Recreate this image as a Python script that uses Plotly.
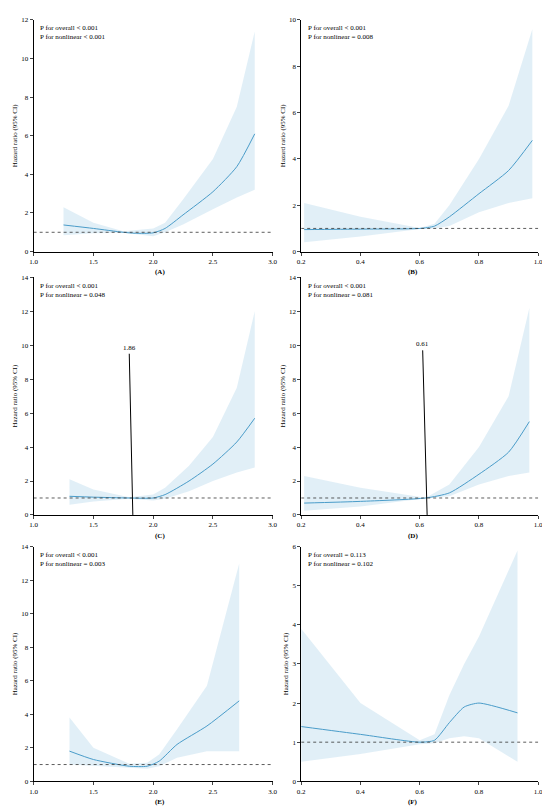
import plotly.graph_objects as go

F = "Liberation Serif"
panels = {
 "A": dict(x=[1.25,1.5,1.75,1.85,2.0,2.1,2.25,2.5,2.7,2.85],
           hr=[1.38,1.2,1.0,0.95,0.97,1.2,1.9,3.1,4.4,6.1],
           lo=[0.85,0.95,0.98,0.9,0.8,1.0,1.4,2.2,2.8,3.2],
           hi=[2.3,1.5,1.05,1.1,1.2,1.5,2.7,4.8,7.5,11.4],
           xr=[1.0,3.0], xt=[1.0,1.5,2.0,2.5,3.0], yr=[0,12], dt=2,
           p=["P for overall < 0.001","P for nonlinear < 0.001"]),
 "B": dict(x=[0.21,0.4,0.6,0.65,0.7,0.8,0.9,0.98],
           hr=[0.95,0.97,1.0,1.1,1.5,2.5,3.5,4.8],
           lo=[0.4,0.65,0.98,1.0,1.1,1.7,2.1,2.3],
           hi=[2.1,1.5,1.02,1.2,2.0,4.0,6.3,9.6],
           xr=[0.2,1.0], xt=[0.2,0.4,0.6,0.8,1.0], yr=[0,10], dt=2,
           p=["P for overall < 0.001","P for nonlinear = 0.008"]),
 "C": dict(x=[1.3,1.5,1.8,2.0,2.1,2.3,2.5,2.7,2.85],
           hr=[1.1,1.05,1.0,1.0,1.2,2.0,3.0,4.3,5.7],
           lo=[0.6,0.8,0.95,0.85,0.95,1.4,2.0,2.5,2.8],
           hi=[2.1,1.5,1.05,1.2,1.6,2.9,4.6,7.5,12.0],
           xr=[1.0,3.0], xt=[1.0,1.5,2.0,2.5,3.0], yr=[0,14], dt=2,
           p=["P for overall < 0.001","P for nonlinear = 0.048"],
           cut=("1.86",1.80,1.83,9.5)),
 "D": dict(x=[0.21,0.4,0.62,0.7,0.8,0.9,0.97],
           hr=[0.7,0.8,1.0,1.3,2.4,3.7,5.5],
           lo=[0.25,0.5,0.98,1.1,1.8,2.3,2.5],
           hi=[2.3,1.6,1.02,1.8,4.0,7.0,12.2],
           xr=[0.2,1.0], xt=[0.2,0.4,0.6,0.8,1.0], yr=[0,14], dt=2,
           p=["P for overall < 0.001","P for nonlinear = 0.081"],
           cut=("0.61",0.61,0.625,9.7)),
 "E": dict(x=[1.3,1.5,1.8,1.95,2.05,2.2,2.45,2.72],
           hr=[1.8,1.3,0.9,0.9,1.2,2.2,3.3,4.8],
           lo=[1.0,0.9,0.8,0.75,0.9,1.4,1.8,1.8],
           hi=[3.8,2.0,1.05,1.1,1.6,3.1,5.7,13.0],
           xr=[1.0,3.0], xt=[1.0,1.5,2.0,2.5,3.0], yr=[0,14], dt=2,
           p=["P for overall < 0.001","P for nonlinear = 0.003"]),
 "F": dict(x=[0.2,0.4,0.6,0.65,0.7,0.75,0.8,0.93],
           hr=[1.4,1.2,1.0,1.05,1.5,1.9,2.0,1.75],
           lo=[0.5,0.7,0.95,0.97,1.1,1.15,1.1,0.5],
           hi=[3.9,2.0,1.05,1.2,2.2,3.0,3.7,5.9],
           xr=[0.2,1.0], xt=[0.2,0.4,0.6,0.8,1.0], yr=[0,6], dt=1,
           p=["P for overall = 0.113","P for nonlinear = 0.102"]),
}
W, H = 550, 807
xdom = [[22/W, 265/W], [294/W, 535/W]]
ydom = [[1-242/H, 1-8/H], [1-508/H, 1-268/H], [1-777/H, 1-540/H]]

fig = go.Figure()
layout = dict(width=W, height=H, margin=dict(l=0, r=0, t=0, b=0),
              plot_bgcolor="white", paper_bgcolor="white", showlegend=False,
              font=dict(family=F, size=7, color="black"))
ann, shapes = [], []
for i, (k, d) in enumerate(panels.items()):
    r, c = divmod(i, 2)
    n = i + 1
    xa, ya = ("x" if n == 1 else f"x{n}"), ("y" if n == 1 else f"y{n}")
    fig.add_trace(go.Scatter(x=d["x"] + d["x"][::-1], y=d["hi"] + d["lo"][::-1],
                             fill="toself", fillcolor="rgba(200,225,240,0.55)",
                             line=dict(width=0), mode="lines",
                             xaxis=xa, yaxis=ya, hoverinfo="skip"))
    fig.add_trace(go.Scatter(x=d["x"], y=d["hr"], mode="lines",
                             line=dict(color="#4a9cc9", width=1, shape="spline", smoothing=0.6),
                             xaxis=xa, yaxis=ya))
    fig.add_trace(go.Scatter(x=d["xr"], y=[1, 1], mode="lines",
                             line=dict(color="#333", width=0.8, dash="dot"),
                             xaxis=xa, yaxis=ya))
    ax = dict(domain=xdom[c], range=d["xr"], tickvals=d["xt"], tickformat=".1f",
              showline=True, linecolor="black", linewidth=0.8, ticks="outside",
              ticklen=3, showgrid=False, zeroline=False, tickfont=dict(size=7),
              anchor=ya)
    ay = dict(domain=ydom[r], range=d["yr"], dtick=d["dt"], showline=True,
              linecolor="black", linewidth=0.8, ticks="outside", ticklen=3,
              showgrid=False, zeroline=False, tickfont=dict(size=7), anchor=xa,
              title=dict(text="Hazard ratio (95% CI)", font=dict(size=7), standoff=2))
    layout["xaxis" if n == 1 else f"xaxis{n}"] = ax
    layout["yaxis" if n == 1 else f"yaxis{n}"] = ay
    ann.append(dict(text=f"<b>({k})</b>", x=sum(xdom[c])/2, y=ydom[r][0]-0.026,
                    xref="paper", yref="paper", yanchor="middle", showarrow=False,
                    font=dict(size=7)))
    ann.append(dict(text="<br>".join(d["p"]), x=d["xr"][0] + 0.02*(d["xr"][1]-d["xr"][0]),
                    y=d["yr"][1]*0.99, xref=xa, yref=ya, xanchor="left", yanchor="top",
                    align="left", showarrow=False, font=dict(size=7)))
    if "cut" in d:
        lab, x0, x1, ytop = d["cut"]
        shapes.append(dict(type="line", x0=x0, y0=ytop, x1=x1, y1=0, xref=xa, yref=ya,
                           line=dict(color="black", width=1)))
        ann.append(dict(text=lab, x=x0, y=ytop, xref=xa, yref=ya, yanchor="bottom",
                        showarrow=False, font=dict(size=7)))
layout["annotations"] = ann
layout["shapes"] = shapes
fig.update_layout(**layout)
fig.write_html("out.html")
